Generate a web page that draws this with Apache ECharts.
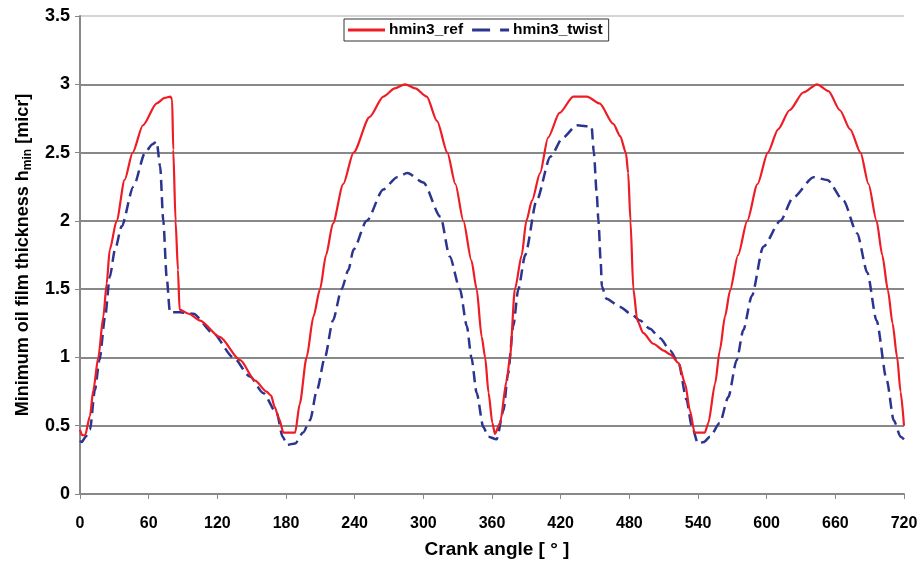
<!DOCTYPE html>
<html>
<head>
<meta charset="utf-8">
<script src="https://cdn.jsdelivr.net/npm/echarts@6/dist/echarts.min.js"></script>
<style>
html,body{margin:0;padding:0;background:#fff;}
#c{width:922px;height:566px;}
</style>
</head>
<body>
<div id="c"></div>
<script>
const xTicks = [0,60,120,180,240,300,360,420,480,540,600,660,720];
const yTicks = [0,0.5,1,1.5,2,2.5,3,3.5];

const refAngle = [0,2,4.4,8.7,11.6,16,20.4,23.3,26,32,39,46,55,67,74,79,80.5,81.5,83.5,85.6,87,95,105,122,140,153,163,167,170,174,177.7,188,192,198,204,209.7,215,221,230,239,253,265,275,284,293,303,312,321,328,335,342,346.6,351,354,357,360.3,362.6,367,372.8,375.7,380,386,390,395,402,409,419,431,443,454,466,472,477,479,481,483.5,487,492,501,510,516,523,528.7,533,537,546,549,555,559,563.6,568,575,583,592,601,610,620,632,644,654,664,673,682,689,696,701,706,710,714,717,720];
const refH = [0.47,0.43,0.43,0.57,0.76,1.0,1.3,1.54,1.79,2.0,2.3,2.5,2.7,2.86,2.9,2.91,2.89,2.52,2.0,1.64,1.35,1.32,1.27,1.15,0.98,0.83,0.75,0.72,0.64,0.55,0.45,0.45,0.66,1.0,1.3,1.5,1.75,1.98,2.27,2.5,2.76,2.91,2.97,3.0,2.97,2.91,2.73,2.5,2.27,2.0,1.71,1.5,1.15,1.0,0.74,0.52,0.44,0.52,0.83,1.0,1.5,1.75,2.0,2.15,2.35,2.61,2.79,2.91,2.91,2.86,2.71,2.62,2.5,2.35,2.0,1.5,1.27,1.18,1.1,1.05,1.02,0.96,0.81,0.61,0.45,0.45,0.52,0.81,1.05,1.3,1.49,1.75,2.0,2.27,2.5,2.67,2.81,2.94,3.0,2.95,2.81,2.67,2.5,2.27,2.0,1.75,1.49,1.25,1.0,0.75,0.5];

const twistAngle = [0,1.5,5,8.7,13,17,22,26,30.6,36.4,46.6,57,63,67,70,72.8,75.7,78.6,87,99,116,134,148.5,160,172,177,181,188,195,201,207,214,221,228.6,234.5,239,250.5,265,277,286,300,315,323,332,338,342,346.6,352.4,356.8,364,370,374,378.6,383,389,399,411,422,434,447,449,451.5,453,455,456,460,472,481,489.5,498,507,515.6,523,530,534.5,540,545,550.5,559,566.5,573.8,579.6,587,597,612,623,641,653,667,679,688,696,705,711,717,720];
const twistH = [0.39,0.38,0.42,0.47,0.76,0.98,1.3,1.59,1.79,1.96,2.25,2.5,2.56,2.58,2.4,2.0,1.59,1.33,1.33,1.32,1.18,1.0,0.86,0.74,0.59,0.42,0.36,0.37,0.45,0.54,0.76,1.0,1.27,1.5,1.64,1.79,2.0,2.23,2.32,2.35,2.28,2.03,1.74,1.5,1.23,1.0,0.74,0.49,0.42,0.4,0.61,0.88,1.23,1.5,1.75,2.15,2.47,2.61,2.7,2.69,2.5,2.2,2.0,1.7,1.52,1.43,1.37,1.32,1.27,1.21,1.14,1.05,0.96,0.69,0.5,0.37,0.38,0.42,0.52,0.71,0.98,1.2,1.45,1.81,2.0,2.17,2.32,2.3,2.15,1.91,1.62,1.27,0.83,0.54,0.42,0.4];

const seriesNames = ['hmin3_ref','hmin3_twist'];

const pairs = (xs, ys) => xs.map((x,i)=>[x, ys[i]]);
const font = '"Liberation Sans", Arial, sans-serif';
const RED = '#ee1c25', BLUE = '#2b3590';

const chart = echarts.init(document.getElementById('c'), null, {renderer:'canvas'});
chart.setOption({
  animation:false,
  backgroundColor:'#fff',
  grid:{left:80, right:18, top:16, bottom:72, containLabel:false, outerBoundsMode:'none'},
  legend:{
    left:344, top:19,
    data:[
      {name:seriesNames[0], icon:'path://M0 0H37V3H0Z'},
      {name:seriesNames[1], icon:'path://M0 0H18V3H0Z M28 0H37V3H28Z'}
    ],
    backgroundColor:'#fff',
    borderColor:'#333', borderWidth:1, borderRadius:0,
    padding:[3,6,3,4],
    itemWidth:37, itemHeight:3, itemGap:9,
    textStyle:{fontFamily:font, fontWeight:'bold', fontSize:15.5, color:'#000', padding:[0,0,0,-1]}
  },
  xAxis:{
    type:'value', min:0, max:720, interval:60,
    name:'Crank angle [ ° ]', nameLocation:'middle', nameGap:46,
    nameTextStyle:{fontFamily:font, fontWeight:'bold', fontSize:19, color:'#000', padding:[0,0,0,10]},
    axisLine:{show:true, lineStyle:{color:'#888', width:2}},
    axisTick:{show:true, inside:false, length:5, lineStyle:{color:'#888', width:1}},
    axisLabel:{margin:22, fontFamily:font, fontWeight:'bold', fontSize:16, color:'#000',
      formatter:v=> xTicks.indexOf(v)>=0 ? String(v) : ''},
    splitLine:{show:false}
  },
  yAxis:{
    type:'value', min:0, max:3.5, interval:0.5,
    name:'Minimum oil film thickness h{sub|min} [micr]',
    nameLocation:'middle', nameGap:40, nameRotate:90,
    nameTextStyle:{fontFamily:font, fontWeight:'bold', fontSize:18, color:'#000',
      rich:{sub:{fontFamily:font, fontWeight:'bold', fontSize:12, color:'#000', padding:[11,0,0,0]}}},
    axisLine:{show:true, lineStyle:{color:'#888', width:2}},
    axisTick:{show:true, inside:false, length:5, lineStyle:{color:'#888', width:1}},
    axisLabel:{margin:10, fontFamily:font, fontWeight:'bold', fontSize:18, color:'#000',
      formatter:v=> { const t = yTicks.find(k=>Math.abs(k-v)<1e-9); return t===undefined?'':String(t); }},
    splitLine:{show:true, lineStyle:{color:['#888','#888','#888','#888','#888','#888','#888','#d4d4d4'], width:2}}
  },
  series:[
    {
      name:seriesNames[0], type:'line', data:pairs(refAngle, refH),
      symbol:'none', smooth:0.25, smoothMonotone:'x',
      lineStyle:{color:RED, width:2.2}, itemStyle:{color:RED}, z:3
    },
    {
      name:seriesNames[1], type:'line', data:pairs(twistAngle, twistH),
      symbol:'none', smooth:0.25, smoothMonotone:'x',
      lineStyle:{color:BLUE, width:2.5, type:[11,6]}, itemStyle:{color:BLUE}, z:2
    }
  ]
});
</script>
</body>
</html>
